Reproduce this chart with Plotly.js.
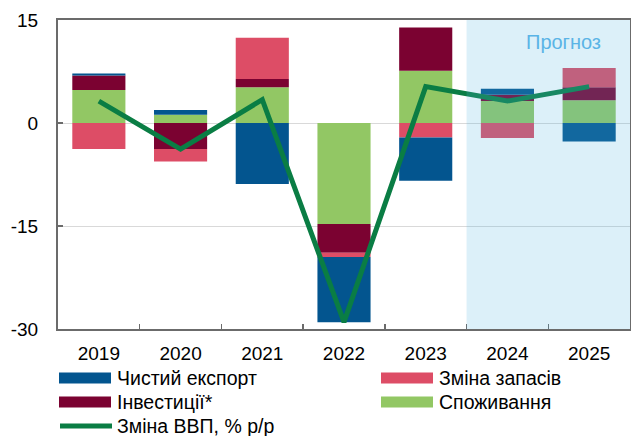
<!DOCTYPE html>
<html>
<head>
<meta charset="utf-8">
<script src="https://cdn.plot.ly/plotly-3.0.1.min.js"></script>
<style>
html,body{margin:0;padding:0;background:#fff;}
#chart{width:631px;height:436px;}
</style>
</head>
<body>
<div id="chart"></div>
<script>
// ---- data ----
var years = ['2019', '2020', '2021', '2022', '2023', '2024', '2025'];
var consumption = [4.8, 1.2, 5.2, -14.7, 7.6, 3.2, 3.3];      // Споживання
var investment  = [2.1, -3.8, 1.2, -4.2, 6.3, 0.9, 1.9];      // Інвестиції*
var inventories = [-3.8, -1.8, 6.0, -0.6, -2.1, -2.2, 2.8];   // Зміна запасів
var netExports  = [0.3, 0.7, -8.9, -9.5, -6.3, 0.9, -2.7];    // Чистий експорт
var gdp         = [3.2, -3.8, 3.4, -29.0, 5.3, 3.2, 5.3];     // Зміна ВВП, % р/р
var yTicks = [-30, -15, 0, 15];
var forecastStart = '2024';
var forecastLabel = 'Прогноз';

var names = {
  netExports: 'Чистий експорт',
  inventories: 'Зміна запасів',
  investment: 'Інвестиції*',
  consumption: 'Споживання',
  gdp: 'Зміна ВВП, % р/р'
};

// ---- styles ----
var C = {
  netExports: '#03558f',
  inventories: '#dd4d66',
  investment: '#7b0231',
  consumption: '#92c764',
  gdp: '#0a7d44'
};
var FONT = 'Liberation Sans, Arial, sans-serif';

function bar(y, key) {
  return {
    type: 'bar', x: years, y: y, name: names[key],
    marker: {color: C[key], line: {width: 0}},
    showlegend: false, hoverinfo: 'skip'
  };
}

var traces = [
  bar(consumption, 'consumption'),
  bar(investment, 'investment'),
  bar(inventories, 'inventories'),
  bar(netExports, 'netExports'),
  {
    type: 'scatter', mode: 'lines', x: years, y: gdp, name: names.gdp,
    line: {color: C.gdp, width: 5}, showlegend: false, hoverinfo: 'skip'
  }
];

// plot area in pixels: x 58..630, y 20..329
var L = 58, R = 630, T = 20, B = 329;
var W = 631, H = 436;
function px(xp) { return (xp - L) / (R - L); }
function py(yp) { return (B - yp) / (B - T); }

var fIdx = years.indexOf(forecastStart);
var shapes = [
  {
    type: 'rect', xref: 'x', yref: 'paper',
    x0: fIdx - 0.5, x1: years.length - 0.5, y0: 0, y1: 1,
    fillcolor: 'rgba(80,178,225,0.2)', line: {width: 0}, layer: 'above'
  }
];
var annotations = [
  {
    xref: 'paper', yref: 'paper', x: px(563.5), y: py(42),
    text: forecastLabel, showarrow: false, xanchor: 'center', yanchor: 'middle',
    font: {family: FONT, size: 20, color: '#5ab4e6'}
  }
];

// manual legend (wide swatches like the reference)
var legendItems = [
  {key: 'netExports', col: 0, row: 0, kind: 'rect'},
  {key: 'inventories', col: 1, row: 0, kind: 'rect'},
  {key: 'investment', col: 0, row: 1, kind: 'rect'},
  {key: 'consumption', col: 1, row: 1, kind: 'rect'},
  {key: 'gdp', col: 0, row: 2, kind: 'line'}
];
var colX = [59, 381];
var rowY = [378, 402, 426];
legendItems.forEach(function (it) {
  var x0 = colX[it.col], x1 = x0 + 52, yc = rowY[it.row];
  if (it.kind === 'rect') {
    shapes.push({
      type: 'rect', xref: 'paper', yref: 'paper',
      x0: px(x0), x1: px(x1), y0: py(yc + 5.5), y1: py(yc - 5.5),
      fillcolor: C[it.key], line: {width: 0}
    });
  } else {
    shapes.push({
      type: 'line', xref: 'paper', yref: 'paper',
      x0: px(x0 + 1), x1: px(x1 + 1), y0: py(yc), y1: py(yc),
      line: {color: C[it.key], width: 5}
    });
  }
  annotations.push({
    xref: 'paper', yref: 'paper', x: px(x1 + 4), y: py(yc),
    text: names[it.key], showarrow: false, xanchor: 'left', yanchor: 'middle',
    font: {family: FONT, size: 19.5, color: '#000'}
  });
});

var layout = {
  width: W, height: H,
  margin: {l: L, r: W - R, t: T, b: H - B, pad: 0},
  paper_bgcolor: '#fff', plot_bgcolor: '#fff',
  font: {family: FONT, size: 19, color: '#000'},
  barmode: 'relative', bargap: 0.35,
  showlegend: false,
  xaxis: {
    type: 'category', tickson: 'boundaries', ticks: 'inside', ticklen: 5,
    tickcolor: '#6b6b6b', tickwidth: 1.5,
    showline: true, linecolor: '#6b6b6b', linewidth: 2, mirror: true,
    showgrid: false, zeroline: false, fixedrange: true,
    tickfont: {family: FONT, size: 19, color: '#000'},
    ticklabelstandoff: 6
  },
  yaxis: {
    range: [-30, 15], tickvals: yTicks, ticktext: yTicks.map(String),
    ticks: 'inside', ticklen: 5, tickcolor: '#6b6b6b', tickwidth: 1.5,
    showline: true, linecolor: '#6b6b6b', linewidth: 2, mirror: true,
    showgrid: true, gridcolor: '#d9d9d9', gridwidth: 1,
    zeroline: false, fixedrange: true,
    tickfont: {family: FONT, size: 19, color: '#000'},
    ticklabelstandoff: 14
  },
  shapes: shapes,
  annotations: annotations
};

Plotly.newPlot('chart', traces, layout, {displayModeBar: false, staticPlot: true});
</script>
</body>
</html>
